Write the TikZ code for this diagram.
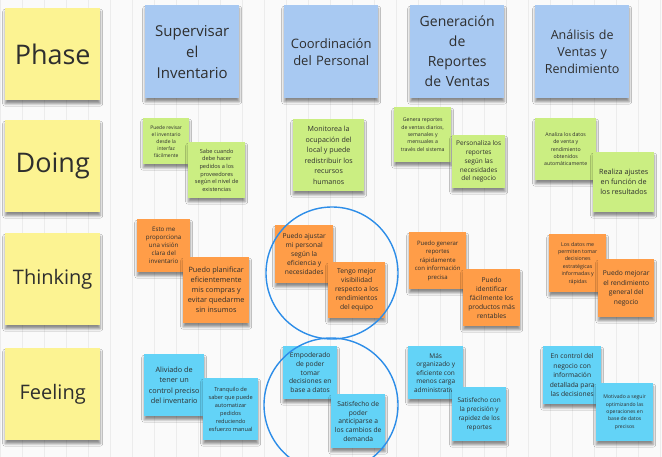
\documentclass[tikz,border=0pt]{standalone}
\usepackage{fontspec}
\setmainfont{Open Sans}
\usepackage{tikz}
\usetikzlibrary{positioning, shadows.blur}
\definecolor{phaseyellow}{HTML}{FCF392}
\definecolor{headblue}{HTML}{A8C9F2}
\definecolor{doinggreen}{HTML}{CBEE82}
\definecolor{thinkorange}{HTML}{FF9D48}
\definecolor{feelcyan}{HTML}{63D3F7}
\definecolor{ringblue}{HTML}{2D8DE8}
\definecolor{notetext}{HTML}{2E2E2E}
\definecolor{boardgrid}{HTML}{ECECEC}
\tikzset{
	note/.style={
			rectangle,
			anchor=north west,
			inner sep=2pt,
			align=center,
			text=notetext,
			blur shadow={shadow xshift=0pt, shadow yshift=-3.5pt, shadow blur radius=2.5pt, shadow opacity=45}
		},
	phasenote/.style={
			note,
			fill=phaseyellow,
			minimum width=95pt,
			minimum height=92pt
		},
	headnote/.style={
			note,
			fill=headblue,
			minimum width=94pt,
			minimum height=93pt,
			text width=88pt
		},
	doingnote/.style={
			note,
			fill=doinggreen
		},
	thinknote/.style={
			note,
			fill=thinkorange
		},
	feelnote/.style={
			note,
			fill=feelcyan
		},
	ring/.style={
			circle,
			draw=ringblue,
			line width=1.4pt,
			fill=none,
			inner sep=0pt
		}
}
\newcommand{\fs}[2]{\fontsize{#1}{#2}\selectfont}

\begin{document}
\begin{tikzpicture}[x=1pt, y=-1pt]
\useasboundingbox (0,0) rectangle (662,457);
\clip (0,0) rectangle (662,457);
\fill[white!98!black] (0,0) rectangle (662,457);
\draw[boardgrid, line width=0.5pt] (0,0) grid[step=22] (662,457);

\node[phasenote, font=\fs{27}{30}] (phase) at (5,8) {Phase};
\node[phasenote, font=\fs{27}{30}] (doing) at (5,120) {Doing};
\node[phasenote, font=\fs{20}{24}] (thinking) at (5,233) {Thinking};
\node[phasenote, font=\fs{20}{24}] (feeling) at (5,348) {Feeling};

\node[headnote, font=\fs{15}{21}] (h1) at (145,5) {Supervisar\\el\\Inventario};
\node[headnote, font=\fs{13}{17}] (h2) at (284,5) {Coordinación\\del Personal};
\node[headnote, font=\fs{14}{20}] (h3) at (410,5) {Generación\\de\\Reportes\\de Ventas};
\node[headnote, font=\fs{12.5}{17}] (h4) at (535,5) {Análisis de\\Ventas y\\Rendimiento};

\node[doingnote, minimum width=46pt, minimum height=46pt, font=\fs{5}{7}] (d1a) at (143,118) {Puede revisar\\el inventario\\desde la\\interfaz\\fácilmente};
\node[doingnote, minimum width=57pt, minimum height=56pt, font=\fs{5.6}{7.6}] (d1b) at (188,142) {Sabe cuando\\debe hacer\\pedidos a los\\proveedores\\según el nivel de\\existencias};
\node[doingnote, minimum width=71pt, minimum height=72pt, font=\fs{7.1}{10.5}] (d2) at (293,119) {Monitorea la\\ocupación del\\local y puede\\redistribuir los\\recursos\\humanos};
\node[doingnote, minimum width=57pt, minimum height=55pt, font=\fs{5.2}{7.3}] (d3a) at (394,107) {Genera reportes\\de ventas diarios,\\semanales y\\mensuales a\\través del sistema};
\node[doingnote, minimum width=53pt, minimum height=53pt, font=\fs{6.5}{8.7}] (d3b) at (452,135) {Personaliza los\\reportes\\según las\\necesidades\\del negocio};
\node[doingnote, minimum width=61pt, minimum height=62pt, font=\fs{5.2}{7.3}] (d4a) at (535,118) {Analiza los datos\\de venta y\\rendimiento\\obtenidos\\automáticamente};
\node[doingnote, minimum width=61pt, minimum height=60pt, font=\fs{7.2}{10}] (d4b) at (593,152) {Realiza ajustes\\en función de\\los resultados};

\node[thinknote, minimum width=53pt, minimum height=53pt, font=\fs{6.2}{8}] (t1a) at (137,219) {Esto me\\proporciona\\una visión\\clara del\\inventario};
\node[thinknote, minimum width=66pt, minimum height=66pt, font=\fs{7.3}{10}] (t1b) at (183,257) {Puedo planificar\\eficientemente\\mis compras y\\evitar quedarme\\sin insumos};
\node[thinknote, minimum width=58pt, minimum height=58pt, font=\fs{6.7}{9}] (t2a) at (275,225) {Puedo ajustar\\mi personal\\según la\\eficiencia y\\necesidades};
\node[thinknote, minimum width=57pt, minimum height=56pt, font=\fs{6.7}{9}] (t2b) at (328,262) {Tengo mejor\\visibilidad\\respecto a los\\rendimientos\\del equipo};
\node[thinknote, minimum width=57pt, minimum height=57pt, font=\fs{6}{8.5}] (t3a) at (409,232) {Puedo generar\\reportes\\rápidamente\\con información\\precisa};
\node[thinknote, minimum width=57pt, minimum height=57pt, font=\fs{6.7}{9}] (t3b) at (463,269) {Puedo\\identificar\\fácilmente los\\productos más\\rentables};
\node[thinknote, minimum width=57pt, minimum height=58pt, font=\fs{5.3}{7.4}] (t4a) at (549,234) {Los datos me\\permiten tomar\\decisiones\\estratégicas\\informadas y\\rápidas};
\node[thinknote, minimum width=56pt, minimum height=58pt, font=\fs{6.7}{9.5}] (t4b) at (598,259) {Puedo mejorar\\el rendimiento\\general del\\negocio};

\node[feelnote, minimum width=60pt, minimum height=62pt, font=\fs{7.3}{10.5}] (f1a) at (144,354) {Aliviado de\\tener un\\control preciso\\del inventario};
\node[feelnote, minimum width=55pt, minimum height=62pt, font=\fs{5.6}{8}] (f1b) at (203,378) {Tranquilo de\\saber que puede\\automatizar\\pedidos\\reduciendo\\esfuerzo manual};
\node[feelnote, minimum width=54pt, minimum height=53pt, font=\fs{6.7}{8.7}] (f2a) at (283,346) {Empoderado\\de poder\\tomar\\decisiones en\\base a datos};
\node[feelnote, minimum width=54pt, minimum height=54pt, font=\fs{6.7}{8.7}] (f2b) at (331,394) {Satisfecho de\\poder\\anticiparse a\\los cambios de\\demanda};
\node[feelnote, minimum width=55pt, minimum height=53pt, font=\fs{6.5}{8.5}] (f3a) at (408,346) {Más\\organizado y\\eficiente con\\menos carga\\administrativa};
\node[feelnote, minimum width=54pt, minimum height=54pt, font=\fs{6.4}{9}] (f3b) at (452,387) {Satisfecho con\\la precisión y\\rapidez de los\\reportes};
\node[feelnote, minimum width=58pt, minimum height=58pt, font=\fs{6.7}{9.5}] (f4a) at (543,346) {En control del\\negocio con\\información\\detallada para\\las decisiones};
\node[feelnote, minimum width=57pt, minimum height=58pt, font=\fs{5.1}{7.4}] (f4b) at (596,383) {Motivado a seguir\\optimizando las\\operaciones en\\base de datos\\precisos};

\node[ring, minimum size=132pt] (ring1) at (332,273) {};
\node[ring, minimum size=134pt] (ring2) at (331,405) {};
\end{tikzpicture}
\end{document}
